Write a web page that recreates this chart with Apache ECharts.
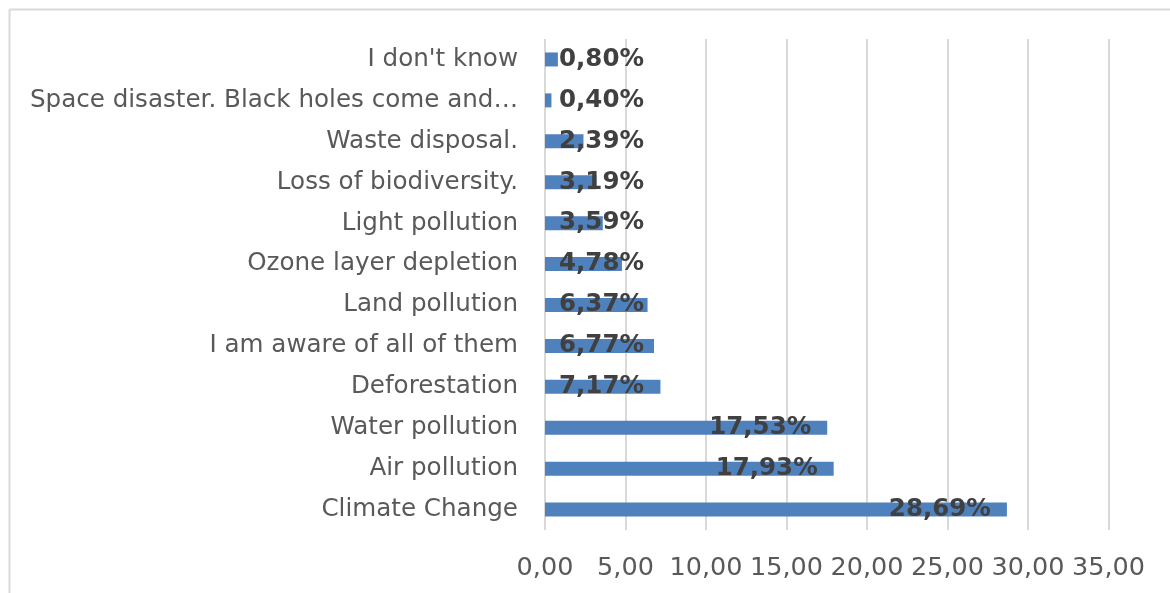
<!DOCTYPE html>
<html>
<head>
<meta charset="utf-8">
<script src="https://cdn.jsdelivr.net/npm/echarts@6/dist/echarts.min.js"></script>
<style>
html,body{margin:0;padding:0;background:#fff;}
#chart{width:1170px;height:593px;}
</style>
</head>
<body>
<div id="chart"></div>
<script>
const categories = [
  "Climate Change",
  "Air pollution",
  "Water pollution",
  "Deforestation",
  "I am aware of all of them",
  "Land pollution",
  "Ozone layer depletion",
  "Light pollution",
  "Loss of biodiversity.",
  "Waste disposal.",
  "Space disaster. Black holes come and…",
  "I don't know"
];
const values = [28.69, 17.93, 17.53, 7.17, 6.77, 6.37, 4.78, 3.59, 3.19, 2.39, 0.40, 0.80];
const xTicks = { min: 0, max: 35, interval: 5 };

const fontFam = "'DejaVu Sans', sans-serif";
const fmt = v => v.toFixed(2).replace('.', ',');

const data = values.map(v => ({
  value: v,
  label: v < 10
    ? { position: 'insideLeft', distance: 14 }
    : { position: 'insideRight', distance: 16 }
}));

const chart = echarts.init(document.getElementById('chart'), null, { renderer: 'canvas' });
chart.setOption({
  animation: false,
  backgroundColor: '#fff',
  graphic: [
    { type: 'line', shape: { x1: 9.5, y1: 9.5, x2: 1170, y2: 9.5 }, style: { stroke: '#d9d9d9', lineWidth: 2 }, silent: true },
    { type: 'line', shape: { x1: 9.5, y1: 9.5, x2: 9.5, y2: 593 }, style: { stroke: '#d9d9d9', lineWidth: 2 }, silent: true }
  ],
  grid: { left: 545, right: 61.5, top: 39, bottom: 63, containLabel: false },
  xAxis: {
    type: 'value',
    min: xTicks.min, max: xTicks.max, interval: xTicks.interval,
    axisLine: { show: false },
    axisTick: { show: false },
    splitLine: { show: true, lineStyle: { color: '#d9d9d9', width: 2 } },
    axisLabel: {
      formatter: v => fmt(v),
      color: '#595959', fontSize: 25.5, fontFamily: fontFam, margin: 25
    }
  },
  yAxis: {
    type: 'category',
    data: categories,
    axisLine: { show: false },
    axisTick: { show: false },
    axisLabel: { color: '#595959', fontSize: 24.6, fontFamily: fontFam, margin: 27 }
  },
  series: [{
    type: 'bar',
    data: data,
    barWidth: 14,
    itemStyle: { color: '#4f81bd' },
    label: {
      show: true,
      formatter: p => fmt(p.value) + '%',
      color: '#404040', fontSize: 24.5, fontWeight: 'bold', fontFamily: fontFam
    }
  }]
});
</script>
</body>
</html>
